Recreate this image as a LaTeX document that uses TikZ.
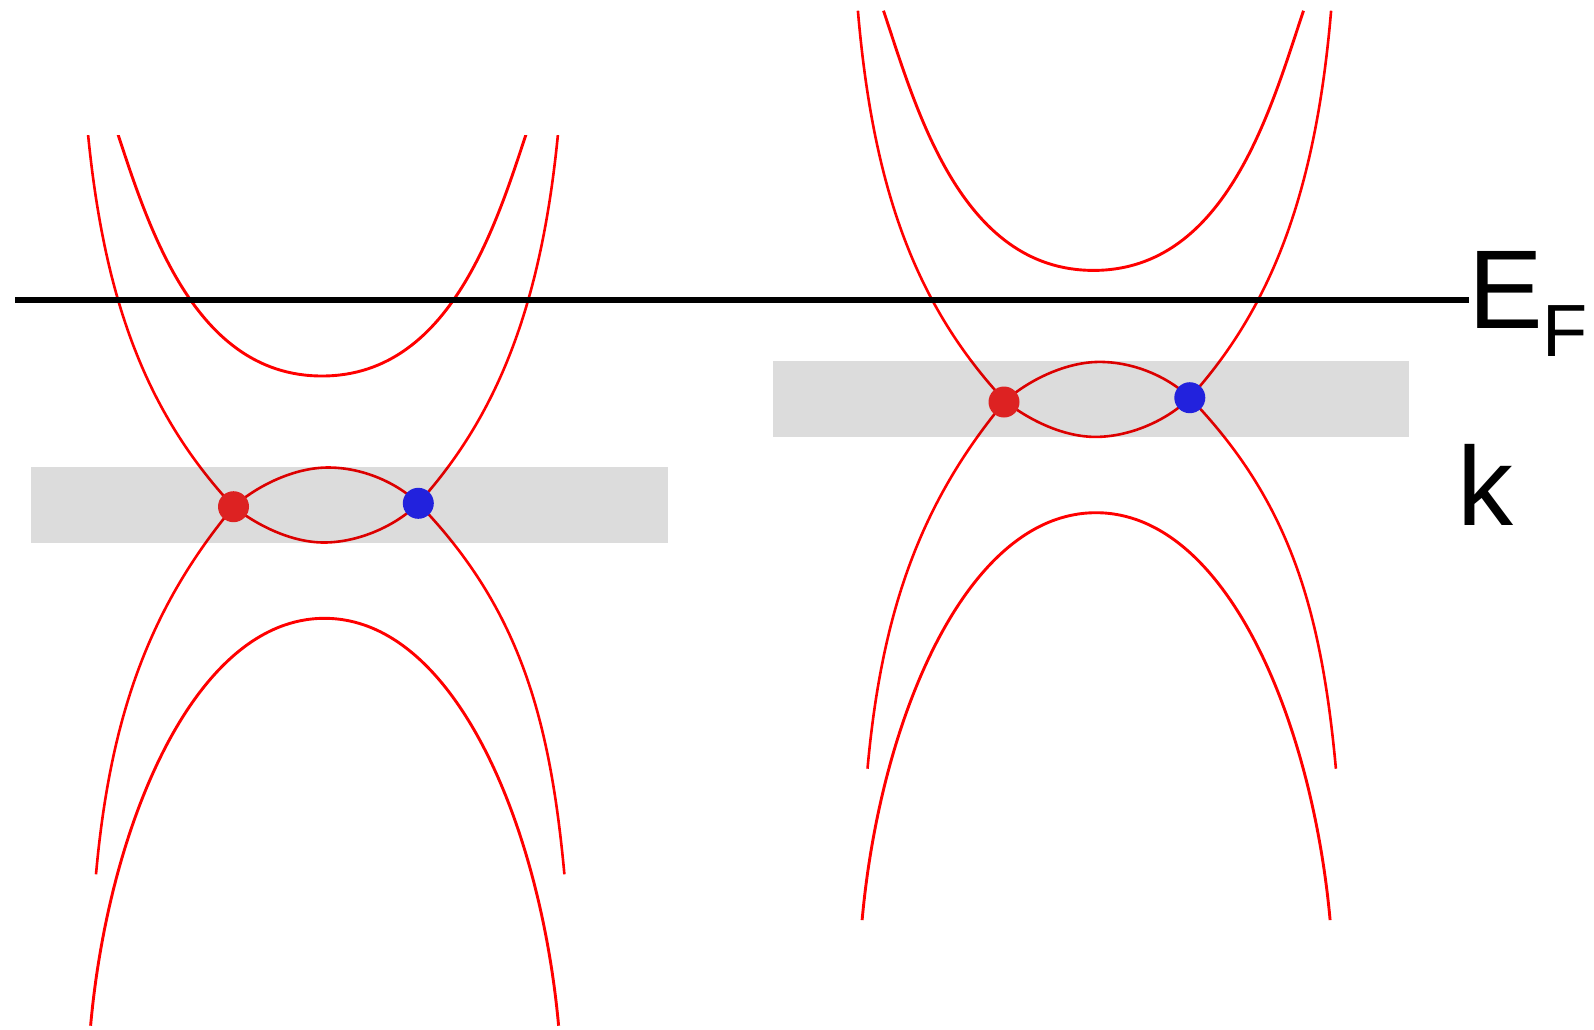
\documentclass[tikz,border=0pt]{standalone}
\usepackage{fontspec}
\setmainfont{Liberation Sans}
\definecolor{bandred}{RGB}{255,0,0}
\definecolor{dotred}{RGB}{221,34,34}
\definecolor{dotblue}{RGB}{34,34,221}
\definecolor{windowgray}{RGB}{220,220,220}
\newcommand\bandsketch{%
  % inner upper band
  \draw[innerband] (112,116.3) .. controls (144,211.3) and (188,376) .. (322,376)
     .. controls (456,376) and (500,211.3) .. (532,116.3);
  % upper crossing band: left arm, lens bottom, right arm
  \draw[band] (86.4,116.3) .. controls (101.7,296.3) and (145.1,411.8) .. (233.5,506.7);
  \draw[band] (233.5,506.7) .. controls (258,526) and (292,542.5) .. (324,542.5)
     .. controls (358,542.5) and (396,526) .. (418.3,503.3);
  \draw[band] (418.3,503.3) .. controls (500.9,411.8) and (544.3,296.3) .. (559.6,116.3);
  % lower crossing band: lens top and arms
  \draw[band] (233.5,506.7) .. controls (258,485) and (295,467.5) .. (328,467.5)
     .. controls (362,467.5) and (396,482) .. (418.3,503.3);
  \draw[band] (233.5,506.7) .. controls (150.3,606.8) and (110.4,714.3) .. (96,874.3);
  \draw[band] (418.3,503.3) .. controls (518,606.8) and (549.6,714.3) .. (564.4,874.3);
  % inner lower band
  \draw[innerband] (90.6,1025.7) .. controls (108.6,825.7) and (194.5,618.3) .. (324.5,618.3)
     .. controls (454.5,618.3) and (540.4,825.7) .. (558.6,1025.7);
}
\begin{document}
\begin{tikzpicture}[x=1pt,y=-1pt,
  band/.style={draw=bandred, line width=2.6pt},
  innerband/.style={draw=bandred, line width=2.9pt},
  reddot/.style={circle, fill=dotred, minimum size=31pt, inner sep=0pt},
  bluedot/.style={circle, fill=dotblue, minimum size=31pt, inner sep=0pt},
  level/.style={draw=black, line width=5.5pt},
  lbl/.style={inner sep=0pt, font=\fontsize{112}{112}\selectfont}]
\useasboundingbox (0,0) rectangle (1594,1029);
% left panel
\begin{scope}
  \clip (0,135) rectangle (800,1029);
  \bandsketch
\end{scope}
% right panel
\begin{scope}[shift={(771.5,-105.6)}]
  \bandsketch
\end{scope}
% gray windows
\begin{scope}[blend mode=multiply]
  \fill[windowgray] (30.5,467) rectangle (668,542.7);
  \fill[windowgray] (772.6,361) rectangle (1408.8,436.7);
\end{scope}
% Weyl points
\node[reddot] (wL1) at (233.5,506.7) {};
\node[bluedot] (wL2) at (418.3,503.3) {};
\node[reddot] (wR1) at (1004,402) {};
\node[bluedot] (wR2) at (1189.8,397.7) {};
% Fermi level
\coordinate (efstart) at (15.2,300);
\coordinate (efend) at (1468.5,300);
\draw[level] (efstart) -- (efend);
\node[lbl, anchor=base west] (eflabel) at (1467.8,328.5) {E\raisebox{-27.5pt}{\fontsize{74}{74}\selectfont F}};
\node[lbl, anchor=base west] (klabel) at (1457.2,525) {k};
\end{tikzpicture}
\end{document}
